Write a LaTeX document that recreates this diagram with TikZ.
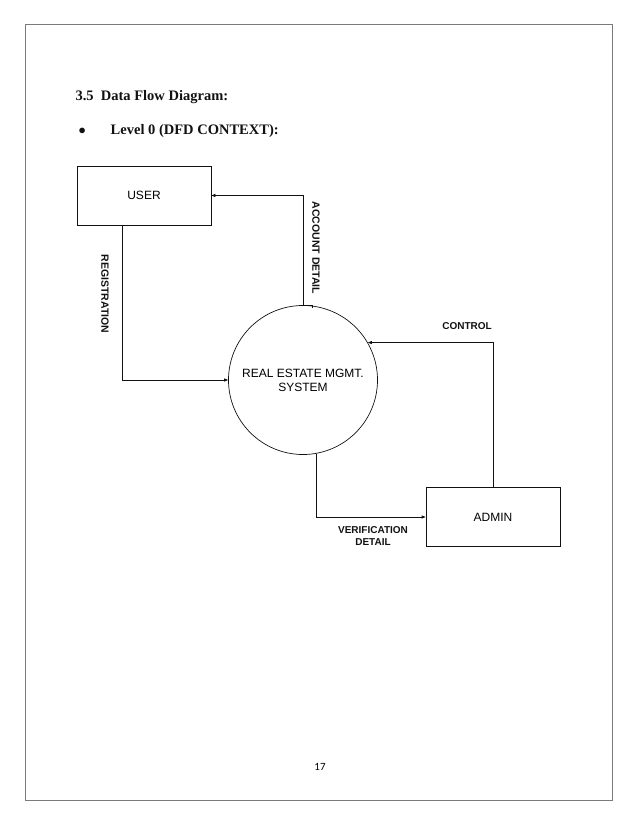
\documentclass[tikz,border=0pt]{standalone}
\usepackage{fontspec}
\setmainfont{Liberation Serif}
\setsansfont{Liberation Sans}
\newfontfamily\pgnumfont{Carlito}
\usetikzlibrary{positioning,arrows.meta}
\definecolor{inkc}{HTML}{111111}
\definecolor{framec}{HTML}{7A7A7A}
\tikzset{
  ent/.style  ={draw=inkc,line width=.7pt,minimum width=134pt,minimum height=59pt,
                inner sep=0pt,font=\sffamily\fontsize{12}{14}\selectfont},
  proc/.style ={draw=inkc,line width=.7pt,circle,minimum size=149pt,inner sep=0pt,
                align=center,font=\sffamily\fontsize{12}{14}\selectfont},
  flow/.style ={font=\sffamily\bfseries\fontsize{10.5}{13}\selectfont,text=inkc,align=center},
  ttl/.style  ={font=\bfseries\fontsize{14.5}{16}\selectfont,text=inkc,anchor=west},
  ar/.style   ={-{Triangle[length=4pt,width=3pt]},draw=inkc,line width=.7pt},
}

\begin{document}
\begin{tikzpicture}[x=1pt,y=-1pt]
\useasboundingbox (0,0) rectangle (638,826);
\draw[framec,line width=1pt] (25,25) rectangle (612,800);

% ---- headings ------------------------------------------------------------
\node[ttl] (t) at (72,97) {3.5\enspace Data Flow Diagram:};
\node[ttl] (l0) at (75,131) {$\bullet$\hspace{25pt}Level 0 (DFD CONTEXT):};

% ---- entities and the process --------------------------------------------
\node[ent] (user) at (144,195.5) {USER};
\node[proc] (sys) at (303,380) {REAL ESTATE MGMT.\\SYSTEM};
\node[ent] (admin) at (493,517) {ADMIN};

% ---- flows ---------------------------------------------------------------
\draw[ar] (sys.north) |- (user.east);
\draw[inkc,line width=.5pt] (sys.north) -- ++(9,0) -- ++(0,3);
\node[flow,rotate=-90] (acc) at (316,248) {ACCOUNT DETAIL};

\draw[ar] ([xshift=-22pt]user.south) |- (sys.west);
\node[flow,rotate=-90] (reg) at (105,294) {REGISTRATION};

\draw[ar] (admin.north) |- (sys.30);
\node[flow,font=\sffamily\bfseries\fontsize{10}{13}\selectfont] (ctl) at (467,326) {CONTROL};

\draw[ar] (sys.-80) |- (admin.west);
\node[flow,font=\sffamily\bfseries\fontsize{10}{13}\selectfont] (ver) at (373,536) {VERIFICATION\\[-1pt]DETAIL};

\node[font=\pgnumfont\fontsize{11}{13}\selectfont] (pg) at (320,767) {17};
\end{tikzpicture}
\end{document}
